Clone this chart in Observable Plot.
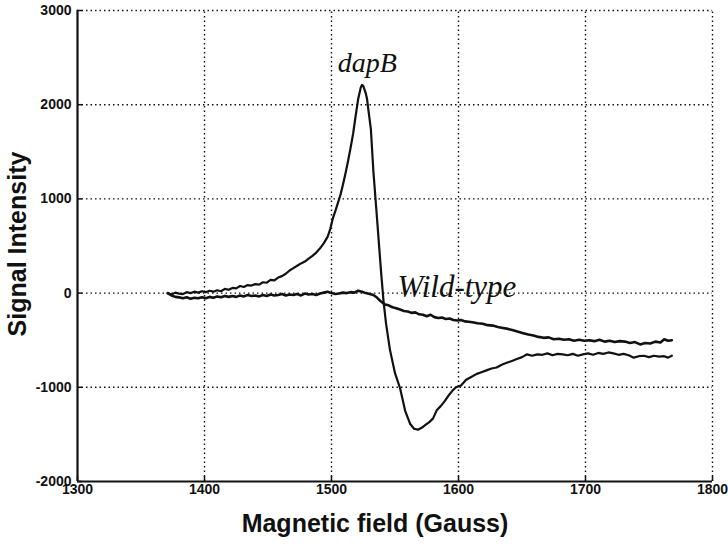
<!DOCTYPE html>
<html>
<head>
<meta charset="utf-8">
<script src="https://cdn.jsdelivr.net/npm/d3@7"></script>
<script src="https://cdn.jsdelivr.net/npm/@observablehq/plot@0.6"></script>
<style>
  html, body { margin: 0; padding: 0; background: #fff; }
</style>
</head>
<body>
<div id="chart"></div>
<script>
// ---- data ----
const dapbField = [1371,1374,1377,1380,1383,1386,1389,1392,1395,1398,1401,1404,1407,1410,1413,1416,1419,1422,1425,1428,1431,1434,1437,1440,1443,1446,1449,1452,1455,1458,1461,1464,1467,1470,1473,1476,1479,1482,1485,1488,1491,1494,1497,1499,1501,1503,1505,1507,1509,1511,1513,1515,1517,1519,1521,1523,1524,1525,1527,1528,1529,1531,1533,1536,1539,1541,1543,1546,1550,1554,1558,1562,1565,1568,1571,1574,1577,1580,1583,1586,1589,1592,1595,1598,1602,1606,1610,1614,1618,1622,1626,1630,1634,1638,1642,1646,1650,1654,1658,1662,1666,1670,1674,1678,1682,1686,1690,1694,1698,1702,1706,1710,1714,1718,1722,1726,1730,1734,1738,1742,1746,1750,1754,1758,1762,1765,1768];
const dapbSignal = [0,-15,5,-5,-10,10,0,15,5,20,10,25,15,30,20,45,35,55,50,75,65,85,80,95,90,115,110,140,135,165,180,205,240,265,290,315,335,365,395,430,475,530,600,680,790,870,955,1040,1150,1270,1400,1540,1690,1880,2060,2180,2210,2200,2120,2060,1950,1740,1290,765,230,-90,-330,-600,-850,-1010,-1250,-1390,-1440,-1450,-1430,-1400,-1370,-1330,-1240,-1200,-1150,-1090,-1040,-1000,-980,-920,-890,-860,-840,-820,-800,-790,-760,-740,-720,-700,-680,-650,-665,-650,-655,-640,-660,-645,-650,-660,-645,-665,-650,-640,-655,-635,-645,-630,-640,-655,-645,-660,-685,-670,-665,-680,-665,-675,-670,-685,-665];

const wtField = [1371,1374,1377,1380,1383,1386,1389,1392,1395,1398,1401,1404,1407,1410,1413,1416,1419,1422,1425,1428,1431,1434,1437,1440,1443,1446,1449,1452,1455,1458,1461,1464,1467,1470,1473,1476,1479,1482,1485,1488,1491,1494,1497,1500,1503,1506,1509,1512,1515,1518,1521,1524,1527,1530,1533,1536,1539,1542,1545,1548,1551,1554,1557,1560,1563,1566,1569,1572,1575,1578,1581,1584,1587,1590,1593,1596,1599,1602,1605,1608,1611,1615,1619,1623,1627,1631,1635,1639,1643,1647,1651,1655,1659,1663,1667,1671,1675,1679,1683,1687,1691,1695,1699,1703,1707,1711,1715,1719,1723,1727,1731,1735,1739,1743,1747,1751,1755,1759,1762,1765,1768];
const wtSignal = [0,-25,-40,-45,-55,-45,-60,-50,-55,-45,-55,-40,-50,-35,-45,-30,-40,-30,-40,-25,-35,-20,-30,-25,-35,-20,-30,-15,-25,-20,-10,-25,-15,-20,-10,-25,-5,-15,-10,-20,-5,5,15,0,-10,-5,5,0,10,5,25,15,0,-10,-20,-50,-90,-120,-130,-150,-160,-175,-190,-195,-210,-205,-225,-230,-245,-230,-255,-265,-260,-275,-270,-285,-290,-285,-300,-305,-310,-320,-325,-340,-345,-360,-370,-380,-395,-410,-425,-440,-450,-465,-475,-470,-490,-485,-495,-490,-505,-495,-505,-500,-510,-495,-515,-505,-520,-510,-515,-530,-520,-545,-530,-535,-515,-525,-490,-505,-500];

const xTicks = [1300,1400,1500,1600,1700,1800];
const yTicks = [-2000,-1000,0,1000,2000,3000];
const seriesNames = ["dapB","Wild-type"];
const labelField = [1505,1552];
const labelSignal = [2350,-45];
const xTitle = "Magnetic field (Gauss)";
const yTitle = "Signal Intensity";

// ---- build tables ----
const dapb = dapbField.map((f,i) => ({field: f, signal: dapbSignal[i]}));
const wt = wtField.map((f,i) => ({field: f, signal: wtSignal[i]}));
const notes = seriesNames.map((n,i) => ({name: n, field: labelField[i], signal: labelSignal[i]}));

const sans = "'Liberation Sans', Arial, Helvetica, sans-serif";
const serif = "'Liberation Serif', 'Times New Roman', serif";
const dash = "1.5,3";

const chart = Plot.plot({
  width: 728,
  height: 546,
  marginLeft: 77,
  marginRight: 16,
  marginTop: 10,
  marginBottom: 65,
  style: {background: "#fff", color: "#111", fontFamily: sans, fontSize: "14px", fontWeight: "bold"},
  x: {domain: [1300, 1800], ticks: xTicks},
  y: {domain: [-2000, 3000], ticks: yTicks},
  marks: [
    // dotted grid
    Plot.ruleX(xTicks.slice(1), {y1: -2000, y2: 3000, stroke: "#111", strokeWidth: 1.4, strokeDasharray: dash}),
    Plot.ruleY(yTicks.slice(1), {x1: 1300, x2: 1800, stroke: "#111", strokeWidth: 1.4, strokeDasharray: dash}),
    // axes
    Plot.axisX({ticks: xTicks, tickSize: -5, tickPadding: 8, tickFormat: d => String(d),
      fontSize: 14, fontWeight: "bold", fill: "#111", label: null, stroke: "#111", strokeWidth: 1.5}),
    Plot.axisY({ticks: yTicks, tickSize: -5, tickPadding: 11, tickFormat: d => String(d),
      fontSize: 14, fontWeight: "bold", fill: "#111", label: null, stroke: "#111", strokeWidth: 1.5}),
    Plot.ruleX([1300], {stroke: "#111", strokeWidth: 2.2}),
    Plot.ruleY([-2000], {stroke: "#111", strokeWidth: 2.2}),
    // data
    Plot.line(wt, {x: "field", y: "signal", stroke: "#111", strokeWidth: 2.6}),
    Plot.line(dapb, {x: "field", y: "signal", stroke: "#111", strokeWidth: 2.2}),
    // annotations
    Plot.text(notes.slice(0, 1), {x: "field", y: "signal", text: "name", textAnchor: "start", lineAnchor: "bottom",
      fontFamily: serif, fontStyle: "italic", fontWeight: "normal", fontSize: 28, fill: "#111"}),
    Plot.text(notes.slice(1), {x: "field", y: "signal", text: "name", textAnchor: "start", lineAnchor: "bottom",
      fontFamily: serif, fontStyle: "italic", fontWeight: "normal", fontSize: 31, fill: "#111"}),
    // axis titles
    Plot.text([xTitle], {frameAnchor: "bottom", textAnchor: "middle", dx: -20, dy: 50, lineAnchor: "bottom",
      fontSize: 25, fontWeight: "bold", fill: "#111"}),
    Plot.text([yTitle], {frameAnchor: "left", textAnchor: "middle", dx: -52, dy: -2, rotate: -90, lineAnchor: "bottom",
      fontSize: 25, fontWeight: "bold", fill: "#111"})
  ]
});
document.getElementById("chart").appendChild(chart);
</script>
</body>
</html>
